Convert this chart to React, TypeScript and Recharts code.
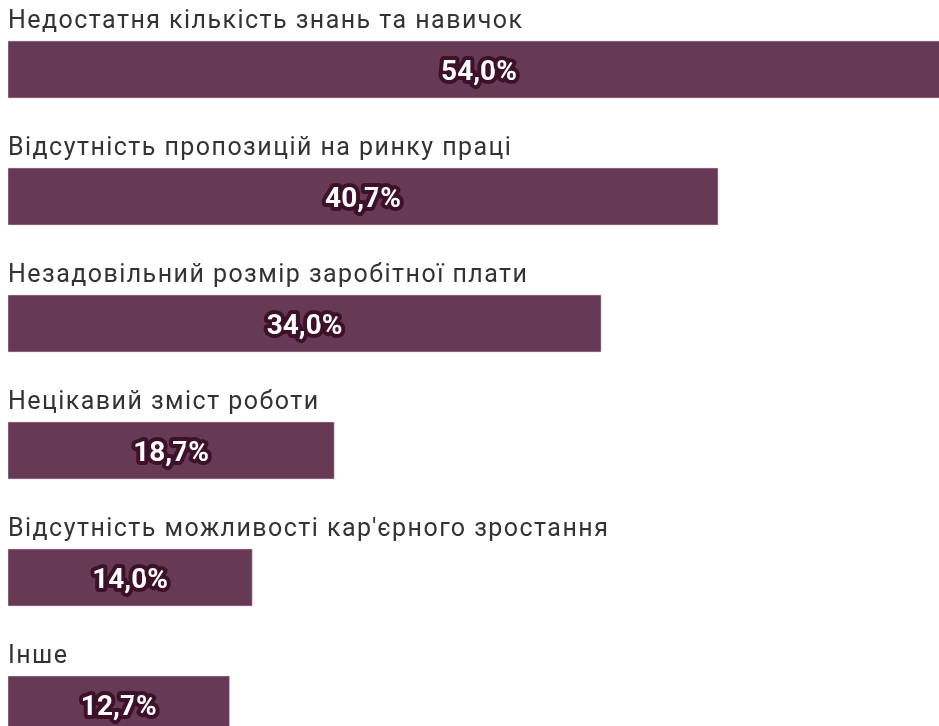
import { BarChart, Bar, XAxis, YAxis, LabelList } from 'recharts';

const categories = [
  'Недостатня кількість знань та навичок',
  'Відсутність пропозицій на ринку праці',
  'Незадовільний розмір заробітної плати',
  'Нецікавий зміст роботи',
  "Відсутність можливості кар'єрного зростання",
  'Інше',
];
const shares = [54.0, 40.7, 34.0, 18.7, 14.0, 12.7];

const data = categories.map((name, i) => ({ name, value: shares[i] }));

const BAR = '#663a54';

function CategoryLabel(props: any) {
  const { x, y, value } = props;
  return (
    <text
      x={x}
      y={y - 13}
      fill="#333"
      fontFamily="Roboto"
      fontSize={25}
      letterSpacing={1.45}
    >
      {value}
    </text>
  );
}

function ValueLabel(props: any) {
  const { x, y, width, height, value } = props;
  const cx = x + width / 2;
  const cy = y + height / 2;
  return (
    <text
      x={cx}
      y={cy + 1}
      textAnchor="middle"
      dominantBaseline="central"
      fill="#fff"
      stroke="#3d1129"
      strokeWidth={8}
      strokeLinejoin="round"
      paintOrder="stroke"
      fontFamily="Roboto"
      fontWeight={700}
      fontSize={28}
    >
      {value.toFixed(1).replace('.', ',')}%
    </text>
  );
}

export default function App() {
  return (
    <div style={{ position: 'fixed', left: 0, top: 0, width: 939, height: 726, overflow: 'hidden' }}>
      <style>{'body{margin:0;overflow:hidden}'}</style>
      <div style={{ position: 'absolute', left: 8, top: 0 }}>
        <BarChart
          width={942}
          height={768}
          data={data}
          layout="vertical"
          margin={{ top: 6, right: 0, bottom: 0, left: 0 }}
          barSize={57}
        >
          <XAxis type="number" domain={[0, 54]} hide />
          <YAxis type="category" dataKey="name" hide />
          <Bar dataKey="value" fill={BAR} stroke="#e8c8d8" strokeWidth={0.5} isAnimationActive={false}>
            <LabelList dataKey="name" content={<CategoryLabel />} />
            <LabelList dataKey="value" content={<ValueLabel />} />
          </Bar>
        </BarChart>
      </div>
    </div>
  );
}
